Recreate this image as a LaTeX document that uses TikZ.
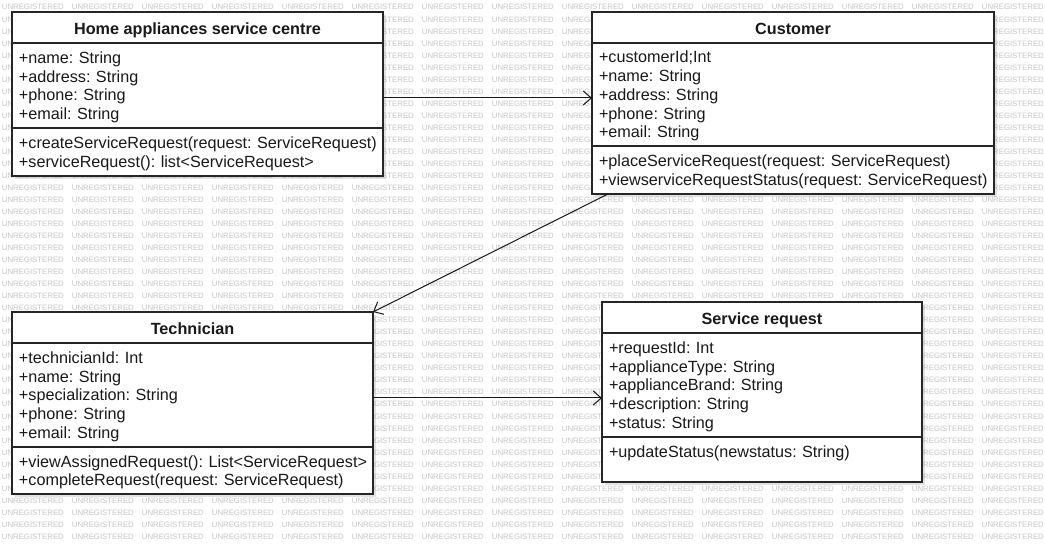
\documentclass[tikz,border=0pt]{standalone}
\usepackage{fontspec}
\setmainfont{Liberation Sans}
\frenchspacing
\usetikzlibrary{positioning,arrows.meta,shadows}

\tikzset{
	classbox/.style={draw=black!85, fill=white, line width=1.2pt, outer sep=0pt,
		drop shadow={shadow xshift=3pt, shadow yshift=-3pt, opacity=.22}},
	classname/.style={classbox, font=\fontsize{16.2}{18.75}\selectfont\bfseries, text=black!90,
		inner sep=0pt, anchor=north west, minimum height=31pt, text height=14pt, text depth=0.4pt},
	classpart/.style={classbox, font=\fontsize{16.2}{18.75}\selectfont, text=black!90,
		align=left, inner xsep=7pt, inner ysep=0pt,
		execute at begin node={\hyphenpenalty=10000\hfuzz=20pt\rule{0pt}{15.2pt}}},
	assoc/.style={draw=black!90, line width=1pt, -{Straight Barb[length=8pt,width=14pt]}},
	watermark/.style={anchor=west, inner sep=0pt, text=black!22,
		font=\fontsize{7.8}{8}\selectfont}
}

\begin{document}
\begin{tikzpicture}[x=1pt,y=-1pt]
	\fill[white] (0,0) rectangle (1045,545);
	\useasboundingbox (0,0) rectangle (1045,545);

	\foreach \r in {0,...,44}
		\foreach \c in {0,...,14}
			\node[watermark] at ({1.7+70*\c},{7.3+12.03*\r}) {UNREGISTERED};

	\node[classname, minimum width=371pt] (hsc) at (12,12) {Home appliances service centre};
	\node[classpart, below=0pt of hsc, text width=357pt, minimum height=85pt] (hsc-attr)
		{+name: String\\+address: String\\+phone: String\\+email: String};
	\node[classpart, below=0pt of hsc-attr, text width=357pt, minimum height=48pt] (hsc-ops)
		{+createServiceRequest(request:~ServiceRequest)\\+serviceRequest(): list<ServiceRequest>};

	\node[classname, minimum width=402pt] (cust) at (592,12) {Customer};
	\node[classpart, below=0pt of cust, text width=388pt, minimum height=103pt] (cust-attr)
		{+customerId;Int\\+name: String\\+address: String\\+phone: String\\+email: String};
	\node[classpart, below=0pt of cust-attr, text width=388pt, minimum height=48pt] (cust-ops)
		{+placeServiceRequest(request:~ServiceRequest)\\+viewserviceRequestStatus(request:~ServiceRequest)};

	\node[classname, minimum width=361pt] (tech) at (12,312) {Technician};
	\node[classpart, below=0pt of tech, text width=347pt, minimum height=104pt] (tech-attr)
		{+technicianId: Int\\+name: String\\+specialization: String\\+phone: String\\+email: String};
	\node[classpart, below=0pt of tech-attr, text width=347pt, minimum height=47pt] (tech-ops)
		{+viewAssignedRequest():~List<ServiceRequest>\\+completeRequest(request:~ServiceRequest)};

	\node[classname, minimum width=320pt] (sr) at (602,302) {Service request};
	\node[classpart, below=0pt of sr, text width=306pt, minimum height=104pt] (sr-attr)
		{+requestId: Int\\+applianceType: String\\+applianceBrand: String\\+description: String\\+status: String};
	\node[classpart, below=0pt of sr-attr, text width=306pt, minimum height=45pt] (sr-ops)
		{+updateStatus(newstatus: String)\\~};

	\draw[assoc] ([yshift=-12.5pt]hsc-attr.east) -- ([yshift=-12.5pt]hsc-attr.east -| cust-attr.west);
	\draw[assoc] ([xshift=16pt]cust-ops.south west) -- (tech.north east);
	\draw[assoc] ([yshift=-3pt]tech-attr.east) -- ([yshift=-3pt]tech-attr.east -| sr-attr.west);
\end{tikzpicture}
\end{document}
